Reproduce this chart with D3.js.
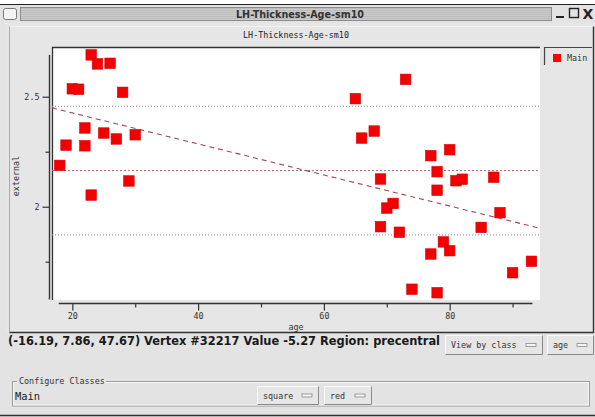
<!DOCTYPE html>
<html><head><meta charset="utf-8">
<script src="https://cdn.jsdelivr.net/npm/d3@7"></script>
<style>
html,body{margin:0;padding:0;background:#fff;}
svg{display:block;}
</style></head>
<body>
<script>
// ---- data ----
const windowTitle = "LH-Thickness-Age-sm10";
const chartTitle = "LH-Thickness-Age-sm10";
const xLabel = "age";
const yLabel = "external";
const seriesName = "Main";
const ages = [23,24,26,20,21,28,22,25,19,22,27,30,18,29,23,
              73,65,68,66,77,80,78,69,81,82,87,78,
              70,71,69,72,88,85,79,80,77,93,90,74,78];
const thickness = [2.690,2.649,2.652,2.536,2.534,2.520,2.358,2.335,2.280,2.277,2.308,2.327,2.188,2.117,2.053,
                   2.579,2.491,2.344,2.312,2.232,2.259,2.159,2.126,2.118,2.125,2.134,2.075,
                   1.994,2.015,1.909,1.884,1.973,1.906,1.840,1.800,1.785,1.752,1.700,1.625,1.609];
const xMajorTicks = [20,40,60,80];
const xMinorTicks = [30,50,70,90];
const yMajorTicks = [2,2.5];
const yMinorTicks = [1.75,2.25];
const xDomain = [16.77, 94.36];
const yDomain = [1.576, 2.726];
const statusText = "(-16.19, 7.86, 47.67) Vertex #32217 Value -5.27 Region: precentral";
const menuButtons = ["View by class","age"];
const classButtons = ["square","red"];
const groupLabel = "Configure Classes";

const W = 595, H = 417;
const mono = "'DejaVu Sans Mono', monospace";
const sans = "'DejaVu Sans', sans-serif";
const bg = "#e3e3e3";

const svg = d3.select("body").append("svg").attr("width", W).attr("height", H);

// background / window frame
svg.append("rect").attr("x",0).attr("y",0).attr("width",W).attr("height",H).attr("fill","#fff");
svg.append("rect").attr("x",0).attr("y",4.5).attr("width",W).attr("height",H-4.5).attr("fill",bg);
svg.append("line").attr("x1",0).attr("x2",W).attr("y1",4.5).attr("y2",4.5).attr("stroke","#222").attr("stroke-width",1.2);

// title bar
const grad = svg.append("defs").append("pattern").attr("id","stripes").attr("width",4).attr("height",2).attr("patternUnits","userSpaceOnUse");
grad.append("rect").attr("width",4).attr("height",2).attr("fill","#cbcbcb");
grad.append("rect").attr("width",4).attr("height",1).attr("fill","#bdbdbd");
svg.append("rect").attr("x",20.5).attr("y",7.5).attr("width",531).attr("height",13).attr("fill","url(#stripes)").attr("stroke","#8c8c8c");
svg.append("rect").attr("x",3.5).attr("y",8.5).attr("width",13).attr("height",11).attr("rx",2).attr("fill","#f4f4f4").attr("stroke","#7a7a7a");
svg.append("text").attr("x",300).attr("y",14).attr("text-anchor","middle").attr("dominant-baseline","central")
  .attr("font-family",sans).attr("font-weight","bold").attr("font-size",9.6).attr("fill","#333").text(windowTitle);
// window controls
svg.append("rect").attr("x",556).attr("y",16).attr("width",8).attr("height",2).attr("fill","#222");
svg.append("rect").attr("x",569.5).attr("y",8.5).attr("width",9).attr("height",9).attr("fill","none").attr("stroke","#222").attr("stroke-width",1.4);
svg.append("text").attr("x",588).attr("y",13.5).attr("text-anchor","middle").attr("dominant-baseline","central")
  .attr("font-family",sans).attr("font-weight","bold").attr("font-size",14).attr("fill","#222").text("X");

// chart panel
svg.append("rect").attr("x",5.5).attr("y",22.5).attr("width",588).attr("height",310).attr("fill","#e6e6e6").attr("stroke","none");
svg.append("path").attr("d","M9.5,332.5 V26.5 H593.5").attr("fill","none").attr("stroke","#f2f2f2");
svg.append("path").attr("d","M9.5,332.5 H593.5 V26.5").attr("fill","none").attr("stroke","#333").attr("stroke-width",1.4);
svg.append("line").attr("x1",9.5).attr("x2",9.5).attr("y1",26.5).attr("y2",332).attr("stroke","#a8a8a8");

// plot area
const P = {l:52, r:540, t:47, b:300};
const x = d3.scaleLinear().domain(xDomain).range([P.l, P.r]);
const y = d3.scaleLinear().domain(yDomain).range([P.b, P.t]);

svg.append("rect").attr("x",P.l).attr("y",P.t).attr("width",P.r-P.l).attr("height",P.b-P.t).attr("fill","#fff");
svg.append("path").attr("d",`M${P.l+0.5},${P.b} V${P.t+0.5} H${P.r}`).attr("fill","none").attr("stroke","#333").attr("stroke-width",1.3);

// chart title
svg.append("text").attr("x",(P.l+P.r)/2).attr("y",35).attr("text-anchor","middle").attr("dominant-baseline","central")
  .attr("font-family",mono).attr("font-size",8.4).attr("fill","#222").text(chartTitle);

// statistics
const n = ages.length;
const mx = d3.mean(ages), my = d3.mean(thickness);
let sxy = 0, sxx = 0;
for (let i=0;i<n;i++){ sxy += (ages[i]-mx)*(thickness[i]-my); sxx += (ages[i]-mx)**2; }
const slope = sxy/sxx, intercept = my - slope*mx;
const sd = d3.deviation(thickness);

const plotG = svg.append("g");
// mean +/- sd lines
[my+sd, my-sd].forEach(v=>{
  plotG.append("line").attr("x1",P.l).attr("x2",P.r).attr("y1",y(v)).attr("y2",y(v))
    .attr("stroke","#8a8a8a").attr("stroke-width",1).attr("stroke-dasharray","1,2");
});
plotG.append("line").attr("x1",P.l).attr("x2",P.r).attr("y1",y(my)).attr("y2",y(my))
  .attr("stroke","#b56a6a").attr("stroke-width",1).attr("stroke-dasharray","2,2");
// regression line
plotG.append("line")
  .attr("x1",P.l).attr("y1",y(intercept+slope*xDomain[0]))
  .attr("x2",P.r).attr("y2",y(intercept+slope*xDomain[1]))
  .attr("stroke","#9a4a5a").attr("stroke-width",1.1).attr("stroke-dasharray","5,4");

// points
const S = 10.5;
plotG.selectAll("rect.pt").data(ages.map((a,i)=>({a, v:thickness[i]}))).join("rect")
  .attr("class","pt")
  .attr("x",d=>x(d.a)-S/2).attr("y",d=>y(d.v)-S/2).attr("width",S).attr("height",S)
  .attr("fill","#f50000").attr("stroke","#d00000").attr("stroke-width",0.6);

// axes
const axisY = 303.5, axisX = 49.5;
const xa = svg.append("g").attr("transform",`translate(0,${axisY})`)
  .call(d3.axisBottom(x).tickValues(xMajorTicks).tickSize(7).tickPadding(3).tickFormat(d3.format("d")));
const xm = svg.append("g").attr("transform",`translate(0,${axisY})`)
  .call(d3.axisBottom(x).tickValues(xMinorTicks).tickSize(4).tickFormat(""));
const ya = svg.append("g").attr("transform",`translate(${axisX},0)`)
  .call(d3.axisLeft(y).tickValues(yMajorTicks).tickSize(7).tickPadding(3).tickFormat(d3.format("~g")));
const ym = svg.append("g").attr("transform",`translate(${axisX},0)`)
  .call(d3.axisLeft(y).tickValues(yMinorTicks).tickSize(4).tickFormat(""));
[xa,xm,ya,ym].forEach(g=>{
  g.select(".domain").remove();
  g.selectAll("line").attr("stroke","#333").attr("stroke-width",1.2);
  g.selectAll("text").attr("font-family",mono).attr("font-size",8.4).attr("fill","#333");
});
const [amin, amax] = d3.extent(ages);
svg.append("line").attr("x1",x(amin)-1).attr("x2",x(amax)+1).attr("y1",axisY).attr("y2",axisY).attr("stroke","#333").attr("stroke-width",1.4);
svg.append("line").attr("x1",axisX).attr("x2",axisX).attr("y1",y(d3.max(thickness))).attr("y2",y(yDomain[0])-0.5).attr("stroke","#333").attr("stroke-width",1.4);

// axis labels
svg.append("text").attr("x",(P.l+P.r)/2).attr("y",327).attr("text-anchor","middle").attr("dominant-baseline","central")
  .attr("font-family",mono).attr("font-size",8.4).attr("fill","#333").text(xLabel);
svg.append("text").attr("transform",`translate(16,176) rotate(-90)`).attr("text-anchor","middle").attr("dominant-baseline","central")
  .attr("font-family",mono).attr("font-size",8.4).attr("fill","#333").text(yLabel);

// legend
svg.append("rect").attr("x",544).attr("y",47).attr("width",48).attr("height",18).attr("fill","#e6e6e6");
svg.append("path").attr("d","M544.5,65 V47.5 H592").attr("fill","none").attr("stroke","#444").attr("stroke-width",1.2);
svg.append("rect").attr("x",553).attr("y",54).attr("width",8).attr("height",8).attr("fill","#f00");
svg.append("text").attr("x",567).attr("y",57.5).attr("dominant-baseline","central")
  .attr("font-family",mono).attr("font-size",8.4).attr("fill","#333").text(seriesName);

// status text
svg.append("text").attr("x",8).attr("y",341).attr("dominant-baseline","central")
  .attr("font-family",sans).attr("font-weight","bold").attr("font-size",11.4)
  .attr("textLength",432).attr("lengthAdjust","spacingAndGlyphs").attr("fill","#1a1a1a").text(statusText);

// menu buttons
function menuButton(x0, y0, w, h, label){
  const g = svg.append("g");
  g.append("rect").attr("x",x0+0.5).attr("y",y0+0.5).attr("width",w).attr("height",h).attr("fill","#e6e6e6");
  g.append("path").attr("d",`M${x0+0.5},${y0+h+0.5} V${y0+0.5} H${x0+w+0.5}`).attr("fill","none").attr("stroke","#fafafa");
  g.append("path").attr("d",`M${x0+0.5},${y0+h+0.5} H${x0+w+0.5} V${y0+0.5}`).attr("fill","none").attr("stroke","#888");
  g.append("text").attr("x",x0+6).attr("y",y0+h/2+0.5).attr("dominant-baseline","central")
    .attr("font-family",mono).attr("font-size",8.4).attr("fill","#333").text(label);
  g.append("rect").attr("x",x0+w-16).attr("y",y0+h/2-1).attr("width",10).attr("height",3).attr("fill","#f4f4f4").attr("stroke","#8a8a8a").attr("stroke-width",0.8);
}
menuButton(445, 335, 97, 19, menuButtons[0]);
menuButton(547, 335, 46, 19, menuButtons[1]);

// configure classes group
svg.append("rect").attr("x",12.5).attr("y",381.5).attr("width",577).attr("height",24.5).attr("fill","none").attr("stroke","#9a9a9a");
svg.append("rect").attr("x",13.5).attr("y",382.5).attr("width",575).attr("height",22.5).attr("fill","none").attr("stroke","#f6f6f6");
svg.append("rect").attr("x",17).attr("y",376).attr("width",89).attr("height",10).attr("fill",bg);
svg.append("text").attr("x",19).attr("y",380.5).attr("dominant-baseline","central")
  .attr("font-family",mono).attr("font-size",8.4).attr("fill","#333").text(groupLabel);
svg.append("text").attr("x",15).attr("y",396).attr("dominant-baseline","central")
  .attr("font-family",mono).attr("font-size",10.4).attr("fill","#222").text(seriesName);
menuButton(257, 386, 61, 18, classButtons[0]);
menuButton(324, 386, 47, 18, classButtons[1]);

// bottom border
svg.append("line").attr("x1",0).attr("x2",W).attr("y1",415.5).attr("y2",415.5).attr("stroke","#333").attr("stroke-width",1.5);
</script>
</body></html>
